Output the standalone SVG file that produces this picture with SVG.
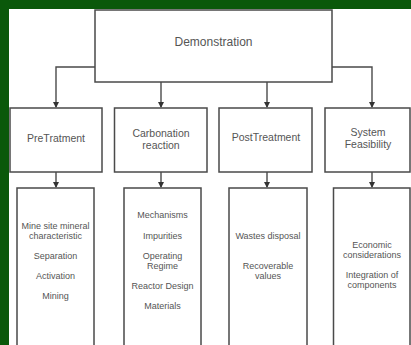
<svg xmlns="http://www.w3.org/2000/svg" width="411" height="345" viewBox="0 0 411 345">
<style>
.box{fill:#fff;stroke:#4a4a4a;stroke-width:1.5}
.con{fill:none;stroke:#4a4a4a;stroke-width:1.4}
.t{font-family:"Liberation Sans",Arial,sans-serif;fill:#555;text-anchor:middle}
.h{font-size:12px}
.m{font-size:10.5px}
.s{font-size:9px}
</style>
<defs>
<marker id="ah" markerWidth="6" markerHeight="6" refX="5" refY="3" orient="auto" markerUnits="userSpaceOnUse">
<path d="M0,0 L6,3 L0,6 Z" fill="#333"/>
</marker>
</defs>
<rect x="0" y="0" width="411" height="345" fill="#0a580a"/>
<rect x="9" y="9" width="402" height="336" fill="#fff"/>
<g id="connectors">
<path class="con" d="M95,67 H56 V107" marker-end="url(#ah)"/>
<path class="con" d="M332,67 H372 V107" marker-end="url(#ah)"/>
<path class="con" d="M161,82 V107" marker-end="url(#ah)"/>
<path class="con" d="M267,82 V107" marker-end="url(#ah)"/>
<path class="con" d="M56,172 V187" marker-end="url(#ah)"/>
<path class="con" d="M161,172 V187" marker-end="url(#ah)"/>
<path class="con" d="M267,172 V187" marker-end="url(#ah)"/>
<path class="con" d="M372,172 V187" marker-end="url(#ah)"/>
</g>
<g id="demonstration">
<rect class="box" x="95" y="10" width="237" height="72"/>
<text class="t h" x="213.5" y="46">Demonstration</text>
</g>
<g id="pretreatment">
<rect class="box" x="10" y="108" width="92" height="64"/>
<text class="t m" x="56" y="142">PreTratment</text>
</g>
<g id="carbonation">
<rect class="box" x="114.5" y="108" width="92.5" height="64"/>
<text class="t m" x="161" y="137">Carbonation</text>
<text class="t m" x="161" y="149">reaction</text>
</g>
<g id="posttreatment">
<rect class="box" x="219" y="108" width="93" height="64"/>
<text class="t m" x="266" y="141">PostTreatment</text>
</g>
<g id="feasibility">
<rect class="box" x="325" y="108" width="85" height="64"/>
<text class="t m" x="368" y="136">System</text>
<text class="t m" x="368" y="148">Feasibility</text>
</g>
<g id="pretreatment-items">
<rect class="box" x="17" y="188" width="77" height="165"/>
<text class="t s" x="55.5" y="229">Mine site mineral</text>
<text class="t s" x="55.5" y="239">characteristic</text>
<text class="t s" x="55.5" y="259">Separation</text>
<text class="t s" x="55.5" y="279">Activation</text>
<text class="t s" x="55.5" y="299">Mining</text>
</g>
<g id="carbonation-items">
<rect class="box" x="124" y="188" width="77" height="165"/>
<text class="t s" x="162.5" y="218">Mechanisms</text>
<text class="t s" x="162.5" y="239">Impurities</text>
<text class="t s" x="162.5" y="259">Operating</text>
<text class="t s" x="162.5" y="269">Regime</text>
<text class="t s" x="162.5" y="289">Reactor Design</text>
<text class="t s" x="162.5" y="309">Materials</text>
</g>
<g id="posttreatment-items">
<rect class="box" x="229" y="188" width="78" height="165"/>
<text class="t s" x="268" y="239">Wastes disposal</text>
<text class="t s" x="268" y="269">Recoverable</text>
<text class="t s" x="268" y="279">values</text>
</g>
<g id="feasibility-items">
<rect class="box" x="333.5" y="188" width="76.5" height="165"/>
<text class="t s" x="372" y="248">Economic</text>
<text class="t s" x="372" y="258">considerations</text>
<text class="t s" x="372" y="278">Integration of</text>
<text class="t s" x="372" y="288">components</text>
</g>
</svg>
